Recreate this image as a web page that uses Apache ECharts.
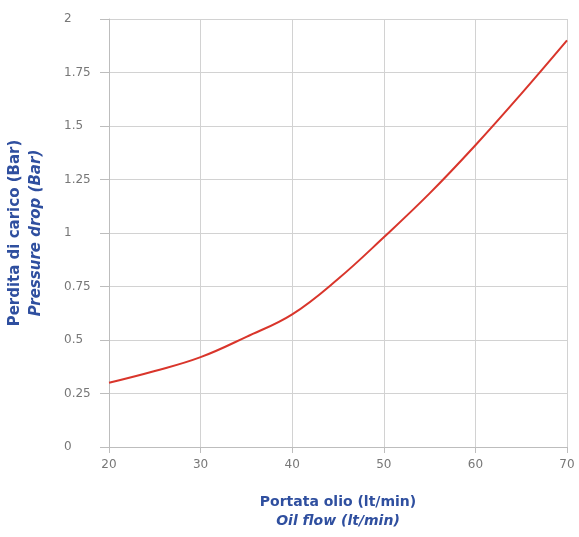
<!DOCTYPE html>
<html>
<head>
<meta charset="utf-8">
<script src="https://cdn.jsdelivr.net/npm/echarts@6/dist/echarts.min.js"></script>
<style>
html,body{margin:0;padding:0;background:#fff;}
#chart{width:579px;height:537px;}
</style>
</head>
<body>
<div id="chart"></div>
<script>
const flow = [20, 25, 30, 35, 40, 45, 50, 55, 60, 65, 70];
const pressureDrop = [0.30, 0.355, 0.42, 0.515, 0.62, 0.785, 0.98, 1.185, 1.41, 1.65, 1.90];
const xTitle = ['Portata olio (lt/min)', 'Oil flow (lt/min)'];
const yTitle = ['Perdita di carico (Bar)', 'Pressure drop (Bar)'];

const blue = '#2f4f9f';
const font = 'DejaVu Sans';
const chart = echarts.init(document.getElementById('chart'));
chart.setOption({
  animation: false,
  backgroundColor: '#fff',
  grid: {left: 107, right: 12, top: 19, bottom: 90},
  xAxis: {
    type: 'value', min: 20, max: 70, interval: 10,
    name: '{a|' + xTitle[0] + '}\n{b|' + xTitle[1] + '}',
    nameLocation: 'middle', nameGap: 46,
    nameTextStyle: {
      rich: {
        a: {fontFamily: font, fontWeight: 'bold', fontSize: 14, color: blue, lineHeight: 19, align: 'center'},
        b: {fontFamily: font, fontWeight: 'bold', fontStyle: 'italic', fontSize: 14, color: blue, lineHeight: 19, align: 'center'}
      }
    },
    axisLine: {show: true, lineStyle: {color: '#bdbdbd', width: 1}},
    axisTick: {show: true, length: 6, lineStyle: {color: '#bdbdbd'}},
    axisLabel: {color: '#777', fontFamily: font, fontSize: 12, margin: 12},
    splitLine: {show: true, lineStyle: {color: '#d2d2d2', width: 1}}
  },
  yAxis: {
    type: 'value', min: 0, max: 2, interval: 0.25,
    name: '{a|' + yTitle[0] + '}\n{b|' + yTitle[1] + '}',
    nameLocation: 'middle', nameGap: 62, nameRotate: 90,
    nameTextStyle: {
      rich: {
        a: {fontFamily: font, fontWeight: 'bold', fontSize: 15, color: blue, lineHeight: 21, align: 'center'},
        b: {fontFamily: font, fontWeight: 'bold', fontStyle: 'italic', fontSize: 15, color: blue, lineHeight: 21, align: 'center'}
      }
    },
    axisLine: {show: true, lineStyle: {color: '#bdbdbd', width: 1}},
    axisTick: {show: true, length: 9, lineStyle: {color: '#bdbdbd'}},
    axisLabel: {color: '#777', fontFamily: font, fontSize: 12, margin: 45, align: 'left'},
    splitLine: {show: true, lineStyle: {color: '#d2d2d2', width: 1}}
  },
  series: [{
    type: 'line',
    data: flow.map((x, i) => [x, pressureDrop[i]]),
    smooth: 0.4,
    showSymbol: false,
    lineStyle: {color: '#d9352b', width: 2},
    itemStyle: {color: '#d9352b'}
  }]
});
</script>
</body>
</html>
